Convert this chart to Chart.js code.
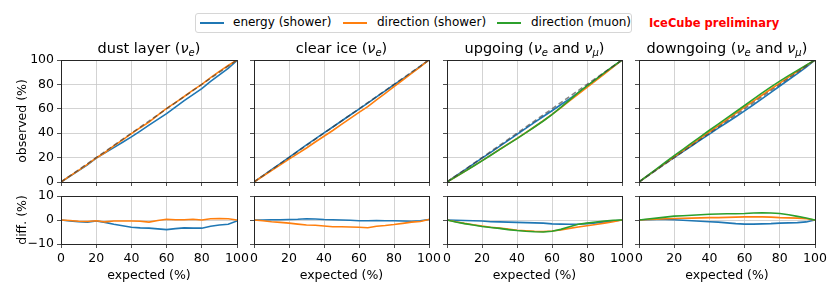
<!DOCTYPE html>
<html>
<head>
<meta charset="utf-8">
<script src="https://cdn.jsdelivr.net/npm/chart.js@4/dist/chart.umd.min.js"></script>
<style>
body { margin: 0; background: #fff; width: 839px; height: 294px; overflow: hidden; position: relative; font-family: "DejaVu Sans", sans-serif; }
canvas { position: absolute; left: 0; top: 0; }
#legend { position: absolute; left: 195px; top: 13px; width: 437px; height: 20px; border: 1px solid #d6d6d6; border-radius: 3px; box-sizing: border-box; background: #fff; }
.sw { position: absolute; top: 8px; width: 24px; height: 0; border-top: 2px solid; }
.lt { position: absolute; top: 1px; font-size: 12px; color: #000; white-space: nowrap; }
#ice { position: absolute; left: 649px; top: 16px; font-size: 11.5px; font-weight: bold; color: #ff0000; white-space: nowrap; }
</style>
</head>
<body>
<div id="legend"></div>
<div id="ice">IceCube preliminary</div>
<canvas id="c0" width="839" height="294"></canvas>
<canvas id="c1" width="839" height="294"></canvas>
<canvas id="c2" width="839" height="294"></canvas>
<canvas id="c3" width="839" height="294"></canvas>
<canvas id="c4" width="839" height="294"></canvas>
<canvas id="c5" width="839" height="294"></canvas>
<canvas id="c6" width="839" height="294"></canvas>
<canvas id="c7" width="839" height="294"></canvas>
<script>
var expected = [0, 5, 10, 15, 20, 25, 30, 35, 40, 45, 50, 55, 60, 65, 70, 75, 80, 85, 90, 95, 100];
var diagonal = [0, 100];

var seriesNames = ["energy (shower)", "direction (shower)", "direction (muon)"];
var seriesColors = ["#1f77b4", "#ff7f0e", "#2ca02c"];

// diff = observed - expected (%)
var dustEnergy   = [0, -0.4, -0.7, -0.9, -0.4, -1.0, -1.8, -2.4, -3.0, -3.3, -3.4, -3.7, -4.0, -3.6, -3.3, -3.4, -3.4, -2.6, -2.1, -1.8, -0.4];
var dustDirSh    = [0, -0.2, -0.5, -0.6, -0.3, -0.8, -0.4, -0.4, -0.4, -0.5, -0.9, -0.2, 0.3, 0.1, 0.1, 0.3, 0.0, 0.5, 0.6, 0.5, 0];
var clearEnergy  = [0, 0, 0.1, 0.1, 0.2, 0.3, 0.5, 0.4, 0.2, 0.1, 0, -0.1, -0.3, -0.3, -0.2, -0.3, -0.3, -0.4, -0.5, -0.3, 0.2];
var clearDirSh   = [0, -0.3, -0.7, -1.0, -1.3, -1.7, -2.1, -2.2, -2.5, -2.8, -2.8, -2.9, -3.0, -3.2, -2.6, -2.3, -1.9, -1.4, -0.9, -0.6, 0.2];
var upEnergy     = [0, -0.1, -0.2, -0.3, -0.4, -0.7, -0.8, -0.9, -1.0, -1.1, -1.2, -1.3, -1.6, -1.7, -1.8, -1.8, -1.5, -1.2, -0.8, -0.4, 0];
var upDirSh      = [0, -0.7, -1.4, -2.0, -2.5, -3.0, -3.4, -3.8, -4.3, -4.5, -4.7, -4.8, -4.6, -4.2, -3.5, -2.9, -2.4, -1.9, -1.3, -0.7, 0];
var upDirMu      = [0, -0.8, -1.5, -2.1, -2.7, -3.1, -3.5, -4.0, -4.4, -4.7, -4.9, -5.0, -4.7, -3.9, -2.8, -1.8, -1.3, -0.8, -0.4, -0.1, 0];
var downEnergy   = [0, 0.1, 0.2, 0.2, 0.1, -0.1, -0.3, -0.5, -0.7, -0.9, -1.2, -1.5, -1.7, -1.7, -1.6, -1.5, -1.3, -1.2, -1.1, -0.8, 0];
var downDirSh    = [0, 0.2, 0.3, 0.5, 0.6, 0.7, 0.8, 0.9, 1.0, 1.0, 1.1, 1.2, 1.3, 1.3, 1.3, 1.2, 1.0, 0.9, 0.8, 0.5, 0];
var downDirMu    = [0, 0.4, 0.8, 1.2, 1.6, 1.8, 2.0, 2.2, 2.4, 2.5, 2.6, 2.6, 2.7, 2.9, 3.0, 2.9, 2.7, 2.2, 1.5, 0.8, 0];

// title pieces: [text, style]  ('' normal, 'i' italic, 's' italic subscript)
var panelTitles = [
    [["dust layer (", ""], ["\u03bd", "i"], ["e", "s"], [")", ""]],
    [["clear ice (", ""], ["\u03bd", "i"], ["e", "s"], [")", ""]],
    [["upgoing (", ""], ["\u03bd", "i"], ["e", "s"], [" and ", ""], ["\u03bd", "i"], ["\u03bc", "s"], [")", ""]],
    [["downgoing (", ""], ["\u03bd", "i"], ["e", "s"], [" and ", ""], ["\u03bd", "i"], ["\u03bc", "s"], [")", ""]]
];
var panelDiffs = [
    [dustEnergy, dustDirSh],
    [clearEnergy, clearDirSh],
    [upEnergy, upDirSh, upDirMu],
    [downEnergy, downDirSh, downDirMu]
];

var colLeft = [61, 254, 447, 639];
var colRight = [237, 429, 622, 815];
var FONT = "'DejaVu Sans', sans-serif";
Chart.defaults.font.family = "DejaVu Sans";

// legend
var legend = document.getElementById("legend");
var swLeft = [4, 147, 301];
var txLeft = [37, 181, 335];
seriesNames.forEach(function (n, i) {
    var s = document.createElement("div");
    s.className = "sw";
    s.style.left = swLeft[i] + "px";
    s.style.borderTopColor = seriesColors[i];
    legend.appendChild(s);
    var t = document.createElement("div");
    t.className = "lt";
    t.style.left = txLeft[i] + "px";
    t.textContent = n;
    legend.appendChild(t);
});

var framePlugin = {
    id: "frame",
    afterDraw: function (chart, args, opts) {
        var a = chart.chartArea, c = chart.ctx;
        c.save();
        c.strokeStyle = "#262626";
        c.lineWidth = 1;
        c.strokeRect(Math.floor(a.left) + 0.5, Math.floor(a.top) + 0.5,
            Math.round(a.right - a.left), Math.round(a.bottom - a.top));
        if (opts.title) {
            var parts = opts.title, w = 0, i;
            var fontOf = function (p) {
                if (p[1] === "i") return "italic 14.5px " + FONT;
                if (p[1] === "s") return "italic 10px " + FONT;
                return "14.5px " + FONT;
            };
            for (i = 0; i < parts.length; i++) { c.font = fontOf(parts[i]); w += c.measureText(parts[i][0]).width; }
            var x = (a.left + a.right) / 2 - w / 2, y = a.top - 7;
            c.fillStyle = "#000";
            c.textBaseline = "alphabetic";
            c.textAlign = "left";
            for (i = 0; i < parts.length; i++) {
                c.font = fontOf(parts[i]);
                c.fillText(parts[i][0], x, parts[i][1] === "s" ? y + 3 : y);
                x += c.measureText(parts[i][0]).width;
            }
        }
        c.restore();
    }
};

function makePanel(id, col, top, bottom, isTop) {
    var diffs = panelDiffs[col];
    var datasets = diffs.map(function (d, k) {
        return {
            label: seriesNames[k],
            data: expected.map(function (x, j) { return { x: x, y: isTop ? x + d[j] : d[j] }; }),
            borderColor: seriesColors[k],
            borderWidth: 1.6,
            pointRadius: 0,
            tension: 0,
            fill: false,
            order: 10 - k
        };
    });
    if (isTop) {
        datasets.push({
            label: "diagonal",
            data: diagonal.map(function (v) { return { x: v, y: v }; }),
            borderColor: "rgba(50,50,50,0.6)",
            borderWidth: 1.5,
            borderDash: [5, 3],
            pointRadius: 0,
            order: 0
        });
    }
    var yw = col === 0 ? 46 : 10;
    var xh = isTop ? 6 : 39;
    var grid = { color: "#c8c8c8", lineWidth: 0.8, tickLength: 4, tickColor: "#262626", drawTicks: true };
    return new Chart(document.getElementById(id), {
        type: "line",
        data: { datasets: datasets },
        options: {
            responsive: false,
            animation: false,
            events: [],
            layout: { padding: { left: colLeft[col] - yw, right: 839 - colRight[col], top: top, bottom: 294 - bottom - xh } },
            plugins: {
                legend: { display: false },
                tooltip: { enabled: false },
                frame: { title: isTop ? panelTitles[col] : null }
            },
            scales: {
                x: {
                    type: "linear", min: 0, max: 100,
                    ticks: { stepSize: 20, display: !isTop, color: "#000", padding: 3, font: { size: 12.5 } },
                    grid: grid,
                    border: { display: false },
                    title: { display: !isTop, text: "expected (%)", color: "#000", padding: 0, font: { size: 12.5 } },
                    afterFit: function (s) { s.height = xh; s.paddingLeft = 0; s.paddingRight = 0; }
                },
                y: {
                    type: "linear",
                    min: isTop ? 0 : -10, max: isTop ? 100 : 10,
                    ticks: {
                        stepSize: isTop ? 20 : 10, display: col === 0, color: "#000", padding: 3,
                        font: { size: 12.5 },
                        callback: function (v) { return String(v).replace("-", "\u2212"); }
                    },
                    grid: grid,
                    border: { display: false },
                    title: { display: col === 0, text: isTop ? "observed (%)" : "diff. (%)", color: "#000", padding: 0, font: { size: 12.5 } },
                    afterFit: function (s) { s.width = yw; s.paddingTop = 0; s.paddingBottom = 0; }
                }
            }
        },
        plugins: [framePlugin]
    });
}

for (var col = 0; col < 4; col++) {
    makePanel("c" + col, col, 60, 182, true);
    makePanel("c" + (col + 4), col, 196, 244, false);
}
</script>
</body>
</html>
